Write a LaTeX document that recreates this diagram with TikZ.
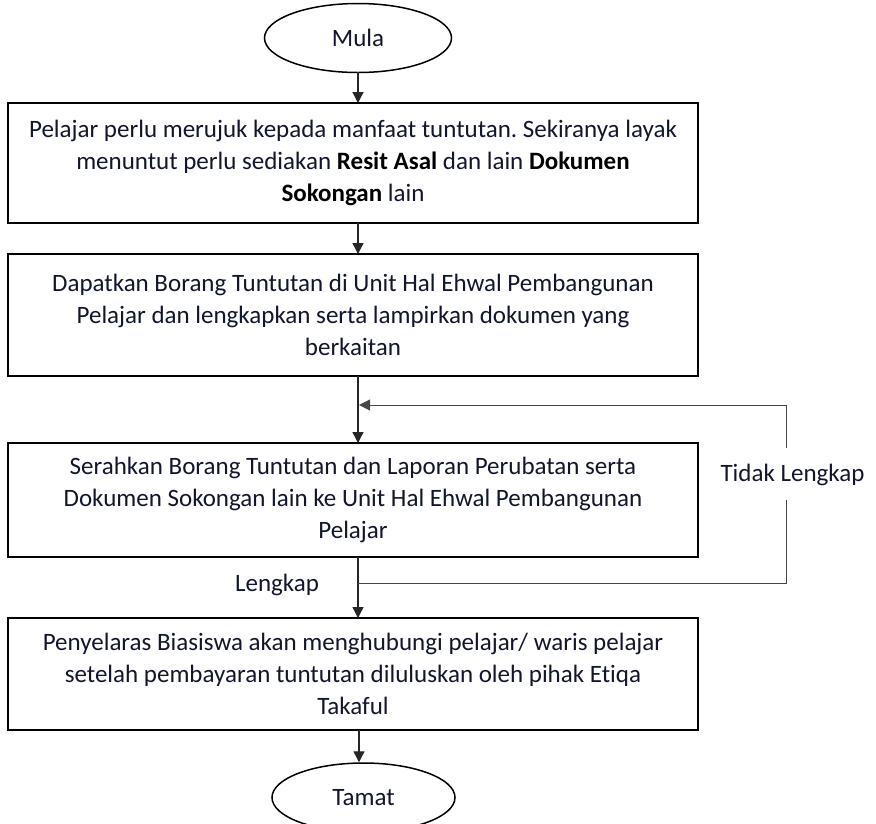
\documentclass[tikz,border=0pt]{standalone}
\usepackage{fontspec}
\setmainfont{Carlito}[Ligatures={NoCommon}]
\usetikzlibrary{arrows.meta,shapes.geometric}
\frenchspacing
\definecolor{txt}{RGB}{18,22,45}
\definecolor{loopc}{RGB}{70,70,70}
\tikzset{
  x=1pt,y=-1pt,
  every node/.style={text=txt,font=\fontsize{25}{32}\selectfont},
  stepbox/.style={draw=black,line width=1.8pt,minimum width=690pt,align=center,inner sep=0pt},
  term/.style={draw=black,ellipse,line width=1.5pt,minimum width=187pt,minimum height=69pt,inner sep=0pt},
  flow/.style={draw=black!85,line width=1.3pt,-{Triangle[width=11pt,length=11pt]}},
  back/.style={draw=loopc,line width=1pt},
  lbl/.style={inner sep=1pt}
}
\begin{document}
\begin{tikzpicture}
\useasboundingbox (0,0) rectangle (876,823);
\clip (0,0) rectangle (876,823);
\node[term] (mula) at (358,38) {Mula};
\node[stepbox,minimum height=120pt] (b1) at (353,163) {Pelajar perlu merujuk kepada manfaat tuntutan. Sekiranya layak\\menuntut perlu sediakan \textbf{\color{black}Resit Asal} dan lain \textbf{\color{black}Dokumen}\\\textbf{\color{black}Sokongan} lain};
\node[stepbox,minimum height=122pt] (b2) at (353,315) {Dapatkan Borang Tuntutan di Unit Hal Ehwal Pembangunan\\Pelajar dan lengkapkan serta lampirkan dokumen yang\\berkaitan};
\node[stepbox,minimum height=114pt] (b3) at (353,500) {Serahkan Borang Tuntutan dan Laporan Perubatan serta\\Dokumen Sokongan lain ke Unit Hal Ehwal Pembangunan\\Pelajar};
\node[stepbox,minimum height=112pt] (b4) at (353,674) {Penyelaras Biasiswa akan menghubungi pelajar/ waris pelajar\\setelah pembayaran tuntutan diluluskan oleh pihak Etiqa\\Takaful};
\node[term,minimum width=183pt] (tamat) at (363.5,797.5) {Tamat};
\node[lbl] (tl) at (792.5,475) {Tidak Lengkap};
\node[lbl] (lk) at (277,585) {Lengkap};
\coordinate (m1) at (358,72);
\coordinate (m2) at (358,103);
\coordinate (m3) at (358,223);
\coordinate (m4) at (358,254);
\coordinate (m5) at (358,376);
\coordinate (m6) at (358,443);
\coordinate (merge) at (359,405);
\coordinate (m7) at (358,557);
\coordinate (split) at (358,583);
\coordinate (m8) at (358,618);
\coordinate (m9) at (359,730);
\coordinate (m10) at (359,763);
\coordinate (r1) at (786,583);
\coordinate (r2) at (786,500);
\coordinate (r3) at (786,448);
\coordinate (r4) at (786,405);
\draw[flow] (mula.south |- m1) -- (m2);
\draw[flow] (m3) -- (m4);
\draw[flow] (m5) -- (m6);
\draw[flow] (m7) -- (m8);
\draw[flow] (m9) -- (tamat.north -| m9);
\draw[back] (split) -- (r1) -- (r2);
\draw[back,-{Triangle[width=11pt,length=11pt]}] (r3) -- (r4) -- (merge);
\end{tikzpicture}
\end{document}
